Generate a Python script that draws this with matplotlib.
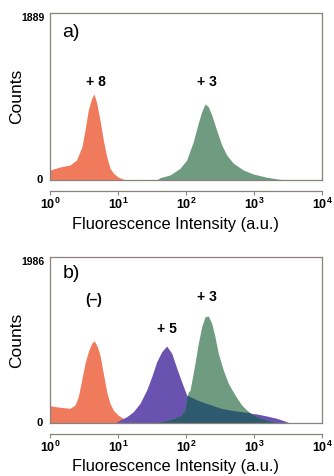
import numpy as np
import matplotlib
matplotlib.use('Agg')
import matplotlib.pyplot as plt

plt.rcParams['font.family'] = ['Liberation Sans', 'DejaVu Sans']
plt.rcParams['mathtext.fontset'] = 'custom'
plt.rcParams['mathtext.rm'] = 'Liberation Sans'
plt.rcParams['mathtext.bf'] = 'Liberation Sans:bold'

# ---- data (x = log10 fluorescence intensity, y = counts) ----
# panel a
a_orange_lg = [0.0, 0.147, 0.294, 0.39, 0.47, 0.515, 0.563, 0.613, 0.647, 0.687,
               0.735, 0.784, 0.834, 0.882, 0.93, 1.0, 1.08, 1.18]
a_orange_ct = [113, 147, 170, 226, 377, 566, 792, 924, 973, 871,
               679, 452, 264, 136, 79, 34, 8, 0]
a_green_lg = [1.569, 1.618, 1.765, 1.912, 2.01, 2.107, 2.18, 2.23, 2.28, 2.328,
              2.378, 2.45, 2.525, 2.598, 2.696, 2.843, 2.99, 3.187, 3.38, 3.53]
a_green_ct = [0, 26, 57, 132, 226, 433, 641, 772, 860, 829,
              735, 566, 396, 283, 189, 113, 68, 31, 8, 0]
a_ymax = 1889

# panel b
b_orange_lg = [0.0, 0.008, 0.025, 0.147, 0.294, 0.368, 0.416, 0.466, 0.515, 0.563,
               0.613, 0.651, 0.696, 0.735, 0.784, 0.834, 0.882, 0.93, 1.0, 1.078,
               1.152, 1.25, 1.4]
b_orange_ct = [2500, 210, 203, 188, 176, 215, 315, 514, 714, 853,
               953, 984, 913, 813, 594, 374, 235, 155, 96, 56,
               36, 18, 0]
b_purple_lg = [0.956, 1.029, 1.128, 1.225, 1.324, 1.422, 1.496, 1.569, 1.643, 1.716,
               1.79, 1.863, 1.937, 2.01, 2.06, 2.157, 2.255, 2.402, 2.534, 2.74,
               2.89, 3.04, 3.187, 3.334, 3.43, 3.53]
b_purple_ct = [0, 36, 75, 135, 236, 395, 554, 733, 853, 921,
               834, 658, 490, 335, 311, 275, 243, 203, 167, 138,
               123, 108, 84, 56, 30, 0]
b_green_lg = [1.5, 1.65, 1.8, 1.92, 1.98, 2.01, 2.035, 2.06, 2.132, 2.181,
              2.231, 2.28, 2.328, 2.378, 2.426, 2.475, 2.548, 2.622, 2.72, 2.819,
              2.892, 2.985, 3.09, 3.235, 3.38]
b_green_ct = [0, 20, 50, 90, 150, 300, 370, 395, 714, 953,
              1152, 1271, 1280, 1192, 1032, 834, 634, 475, 335, 215,
              155, 96, 60, 24, 0]
b_ymax = 1986

orange = '#f07b5c'
green = '#6f9b80'
purple = '#6a52b0'
dark = '#2e5a70'
frame = '#8a827c'

W, H = 334, 476
fig = plt.figure(figsize=(W / 100, H / 100), dpi=100)


def make_axes(top_px, bottom_px, ymax):
    ax = fig.add_axes([50 / W, (H - bottom_px) / H, 272 / W, (bottom_px - top_px) / H])
    ax.set_xscale('log')
    ax.set_xlim(1, 1e4)
    ax.set_ylim(0, ymax)
    for s in ax.spines.values():
        s.set_color(frame)
        s.set_linewidth(0.9)
    ax.set_xticks([])
    ax.set_xticks([], minor=True)
    ax.set_yticks([])
    # detached x axis below the box
    sec = ax.secondary_xaxis(-11 / (bottom_px - top_px))
    sec.set_xticks([1, 10, 100, 1000, 10000])
    sec.set_xticklabels([r'$\mathbf{10^{%d}}$' % i for i in range(5)], fontsize=9)
    sec.set_xticks([], minor=True)
    sec.tick_params(direction='out', length=3, width=0.8, color=frame, pad=1)
    sec.spines['bottom'].set_color(frame)
    sec.spines['bottom'].set_linewidth(0.9)
    ax.text(-0.02, ymax, str(ymax), transform=ax.get_yaxis_transform(),
            ha='right', va='top', fontsize=7.5, fontweight='bold')
    ax.text(-0.025, 0, '0', transform=ax.get_yaxis_transform(),
            ha='right', va='center', fontsize=8, fontweight='bold')
    fig.text(17 / W, 1 - (top_px + bottom_px) / 2 / H, 'Counts', rotation=90,
             ha='center', va='center', fontsize=12.5)
    return ax


def lin(lg):
    return 10 ** np.asarray(lg)


# ---- panel a ----
ax1 = make_axes(13, 180, a_ymax)
ax1.fill_between(lin(a_orange_lg), a_orange_ct, color=orange, lw=0)
ax1.fill_between(lin(a_green_lg), a_green_ct, color=green, lw=0)
ax1.text(0.045, 0.885, 'a)', transform=ax1.transAxes, fontsize=14, va='center')
ax1.text(4.75, 1108, '+ 8', ha='center', va='center', fontsize=10, fontweight='bold')
ax1.text(204, 1108, '+ 3', ha='center', va='center', fontsize=10, fontweight='bold')
fig.text(175 / W, 1 - 224 / H, 'Fluorescence Intensity (a.u.)',
         ha='center', va='center', fontsize=11.8)

# ---- panel b ----
ax2 = make_axes(257, 423, b_ymax)
ax2.fill_between(lin(b_orange_lg), b_orange_ct, color=orange, lw=0)
pp = ax2.fill_between(lin(b_purple_lg), b_purple_ct, color=purple, lw=0)
ax2.fill_between(lin(b_green_lg), b_green_ct, color=green, lw=0)
# overlap of +5 and +3 drawn darker: the +3 shape clipped to the +5 shape
ov = ax2.fill_between(lin(b_green_lg), b_green_ct, color=dark, lw=0)
ov.set_clip_path(pp.get_paths()[0], ax2.transData)
ax2.text(0.045, 0.90, 'b)', transform=ax2.transAxes, fontsize=14, va='center')
ax2.text(4.34, 1471, '(–)', ha='center', va='center', fontsize=10, fontweight='bold')
ax2.text(52, 1121, '+ 5', ha='center', va='center', fontsize=10, fontweight='bold')
ax2.text(204, 1503, '+ 3', ha='center', va='center', fontsize=10, fontweight='bold')
fig.text(175 / W, 1 - 467 / H, 'Fluorescence Intensity (a.u.)',
         ha='center', va='center', fontsize=11.8)

fig.savefig('out.png', dpi=100)
